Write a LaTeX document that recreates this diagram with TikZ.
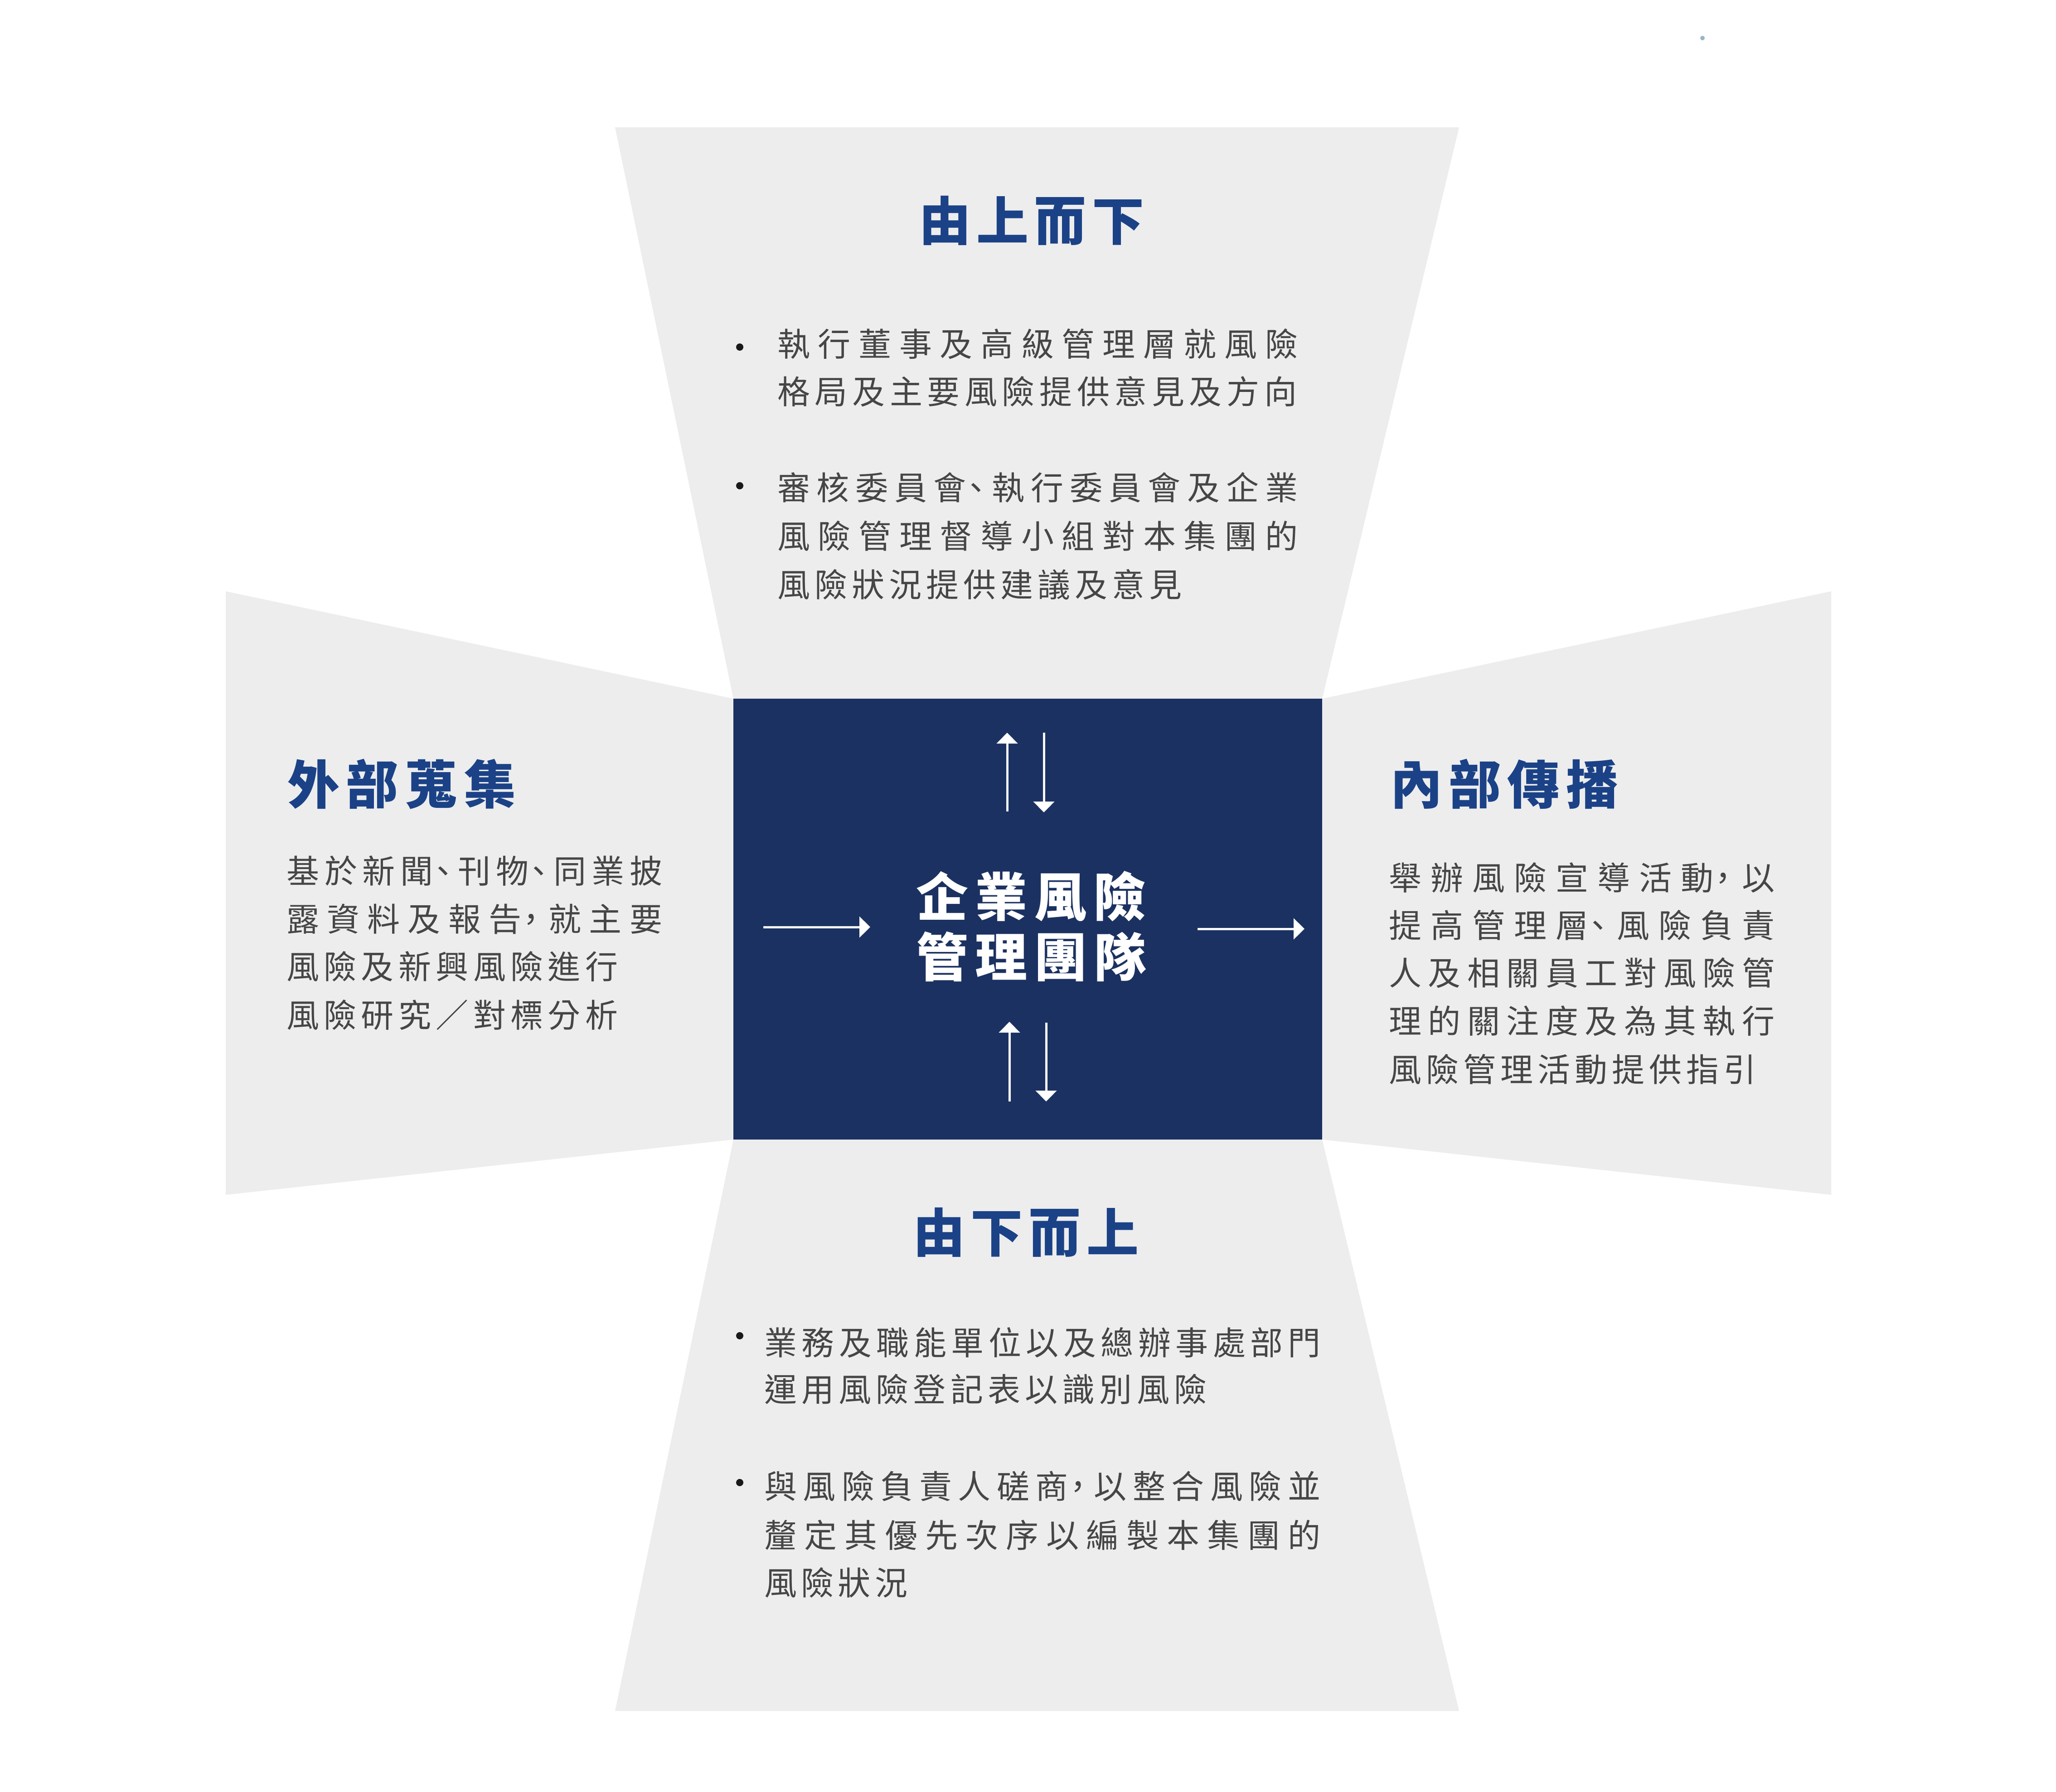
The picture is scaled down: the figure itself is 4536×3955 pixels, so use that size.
\documentclass[tikz,border=0pt]{standalone}
\usepackage{fontspec}
\newfontfamily\cjk{Noto Sans CJK TC}
\usetikzlibrary{arrows.meta}
\definecolor{navy}{HTML}{1B3161}
\definecolor{headblue}{HTML}{1B4287}
\definecolor{panel}{HTML}{EDEDED}
\definecolor{bodytxt}{HTML}{464646}
\definecolor{dotc}{HTML}{9AB5C2}
\makeatletter
\def\spr@d#1{\def\t@mp{#1}\ifx\t@mp\@nnil\else\hfill#1\expandafter\spr@d\fi}
\def\spr@dfirst#1{#1\spr@d}
\newcommand\spreadline[2]{\makebox[#1][l]{\spr@dfirst#2\@nil}}
\newcommand\pu[1]{\makebox[0.6em][c]{#1}}
\makeatother
\tikzset{
  panelshape/.style={fill=panel, draw=none},
  body/.style={anchor=west, inner sep=0pt, text=bodytxt, font=\cjk\fontsize{72}{86}\selectfont},
  head/.style={anchor=west, inner sep=0pt, text=headblue, font=\cjk\bfseries\fontsize{115}{130}\selectfont},
  ctr/.style={anchor=west, inner sep=0pt, text=white, font=\cjk\bfseries\fontsize{115}{130}\selectfont},
  arr/.style={draw=white, line width=5pt, -{Triangle[width=46pt,length=24pt]}},
  bulletdot/.style={circle, fill=black!90, inner sep=0pt, minimum size=16pt},
}
\begin{document}
\begin{tikzpicture}[x=1pt,y=-1pt]
\useasboundingbox (0,0) rectangle (4536,3955);
\fill[white] (0,0) rectangle (4536,3955);
% panels
\fill[panelshape] (1357,281) -- (3219,281) -- (2917,1542) -- (1618,1542) -- cycle;
\fill[panelshape] (1618,2515) -- (2917,2515) -- (3219,3776) -- (1357,3776) -- cycle;
\fill[panelshape] (498,1305) -- (1618,1542) -- (1618,2515) -- (498,2637) -- cycle;
\fill[panelshape] (4040,1305) -- (2917,1542) -- (2917,2515) -- (4040,2637) -- cycle;
% core box
\node[fill=navy, draw=none, minimum width=1299pt, minimum height=973pt, inner sep=0pt, anchor=north west] (core) at (1618,1542) {};
\fill[dotc] (3756,84) circle (5pt);
% centre text
\node[ctr] (c1) at (2021,1978) {\spreadline{507pt}{企業風險}};
\node[ctr] (c2) at (2021,2111) {\spreadline{507pt}{管理團隊}};
% arrows
\coordinate (tuA) at (2222,1791); \coordinate (tuB) at (2222,1617);
\coordinate (tdA) at (2303,1617); \coordinate (tdB) at (2303,1793);
\coordinate (buA) at (2227,2431); \coordinate (buB) at (2227,2255);
\coordinate (bdA) at (2308,2257); \coordinate (bdB) at (2308,2431);
\coordinate (laA) at (1684,2046); \coordinate (laB) at (1920,2046);
\coordinate (raA) at (2642,2050); \coordinate (raB) at (2878,2050);
\draw[arr] (tuA) -- (tuB);
\draw[arr] (tdA) -- (tdB);
\draw[arr] (buA) -- (buB);
\draw[arr] (bdA) -- (bdB);
\draw[arr] (laA) -- (laB);
\draw[arr] (raA) -- (raB);
% headings
\node[head] (hT) at (2027,487) {\spreadline{497pt}{由上而下}};
\node[head] (hB) at (2014,2720) {\spreadline{498pt}{由下而上}};
\node[head] (hL) at (634,1730) {\spreadline{504pt}{外部蒐集}};
\node[head] (hR) at (3067,1730) {\spreadline{503pt}{內部傳播}};
% top panel
\node[bulletdot] (b1) at (1632,766) {};
\node[bulletdot] (b2) at (1632,1072) {};
\node[body] (t1) at (1715,759) {\spreadline{1148pt}{執行董事及高級管理層就風險}};
\node[body] (t2) at (1715,864) {\spreadline{1146pt}{格局及主要風險提供意見及方向}};
\node[body] (t3) at (1715,1076) {\spreadline{1148pt}{審核委員{會\pu{、}}執行委員會及企業}};
\node[body] (t4) at (1715,1183) {\spreadline{1148pt}{風險管理督導小組對本集團的}};
\node[body] (t5) at (1715,1290) {\spreadline{892pt}{風險狀況提供建議及意見}};
% left panel
\node[body] (l1) at (632,1922) {\spreadline{829pt}{基於新{聞\pu{、}}刊{物\pu{、}}同業披}};
\node[body] (l2) at (632,2028) {\spreadline{829pt}{露資料及報{告\pu{，}}就主要}};
\node[body] (l3) at (632,2133) {\spreadline{731pt}{風險及新興風險進行}};
\node[body] (l4) at (632,2240) {\spreadline{731pt}{風險研究／對標分析}};
% right panel
\node[body] (r1) at (3064,1937) {\spreadline{851pt}{舉辦風險宣導活{動\pu{，}}以}};
\node[body] (r2) at (3064,2042) {\spreadline{851pt}{提高管理{層\pu{、}}風險負責}};
\node[body] (r3) at (3064,2147) {\spreadline{851pt}{人及相關員工對風險管}};
\node[body] (r4) at (3064,2253) {\spreadline{851pt}{理的關注度及為其執行}};
\node[body] (r5) at (3064,2360) {\spreadline{810pt}{風險管理活動提供指引}};
% bottom panel
\node[bulletdot] (b3) at (1632,2948) {};
\node[bulletdot] (b4) at (1632,3272) {};
\node[body] (u1) at (1686,2963) {\spreadline{1227pt}{業務及職能單位以及總辦事處部門}};
\node[body] (u2) at (1686,3066) {\spreadline{976pt}{運用風險登記表以識別風險}};
\node[body] (u3) at (1686,3280) {\spreadline{1227pt}{與風險負責人磋{商\pu{，}}以整合風險並}};
\node[body] (u4) at (1686,3388) {\spreadline{1227pt}{釐定其優先次序以編製本集團的}};
\node[body] (u5) at (1686,3493) {\spreadline{316pt}{風險狀況}};
\end{tikzpicture}
\end{document}
